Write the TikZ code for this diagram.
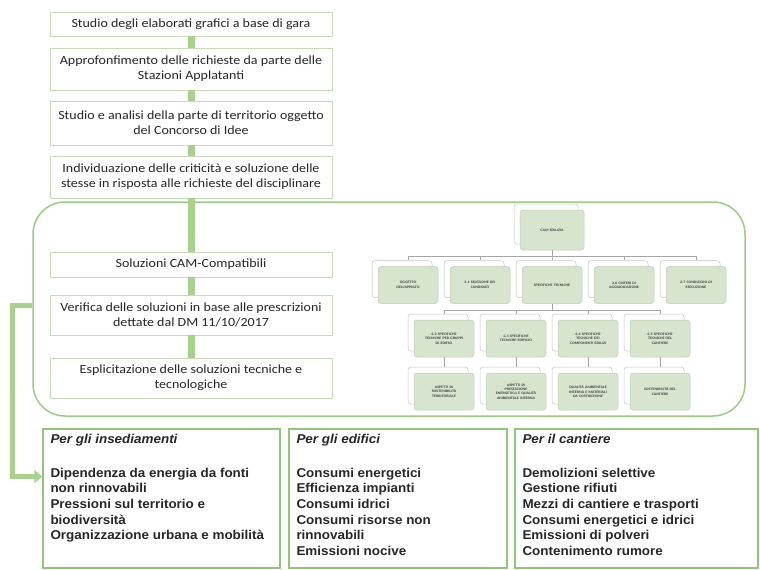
\documentclass[tikz,border=0pt]{standalone}
\usepackage{fontspec}
\setmainfont{Carlito}[FakeStretch=1.12]
\newfontfamily\arialf{Liberation Sans}[FakeStretch=1.05]
\usetikzlibrary{arrows.meta,calc}
\definecolor{barG}{HTML}{A9D18E}
\definecolor{flowB}{HTML}{C6D9BA}
\definecolor{contG}{HTML}{9CCB86}
\definecolor{botG}{HTML}{92C57C}
\definecolor{orgF}{HTML}{D7E4CE}
\definecolor{orgB}{HTML}{BDD0B1}
\definecolor{orgK}{HTML}{C4C4C4}
\definecolor{orgL}{HTML}{A6A6A6}
\tikzset{
  flowbox/.style={draw=flowB, line width=0.9pt, fill=white, minimum width=282pt,
    inner sep=0pt, align=center, font=\fontsize{12.5}{15}\selectfont, text=black!85},
  bar/.style={draw=barG, line width=7pt},
  orgfront/.style={draw=orgB, line width=0.5pt, fill=orgF, rounded corners=3pt,
    minimum width=60pt, minimum height=37pt, text width=56pt, align=center,
    inner sep=0pt, font=\bfseries\fontsize{3.6}{4.4}\selectfont, text=black!75},
  orgback/.style={draw=orgK, line width=0.5pt, fill=white, rounded corners=3pt,
    minimum width=60pt, minimum height=37pt, inner sep=0pt},
  orgline/.style={draw=orgL, line width=0.5pt},
  botbox/.style={draw=botG, line width=1.4pt, fill=white, minimum height=139pt, inner sep=0pt},
  bottext/.style={anchor=north west, align=left, inner sep=0pt,
    font=\arialf\bfseries\fontsize{12.8}{15.6}\selectfont, text=black!85},
  larr/.style={draw=barG, line width=5pt, line join=miter,
    -{Triangle[length=8pt,width=13pt]}}
}
\begin{document}
\begin{tikzpicture}[x=1pt,y=1pt]
\fill[white] (0,0) rectangle (760,-570);
\useasboundingbox (0,0) rectangle (760,-570);

% container
\node[draw=contG, line width=1.5pt, rounded corners=32pt, minimum width=712pt,
  minimum height=214pt, inner sep=0pt] (cont) at (389,-309) {};

% flow boxes
\node[flowbox, minimum height=24pt] (f1) at (191,-24) {Studio degli elaborati grafici a base di gara};
\node[flowbox, minimum height=42pt] (f2) at (191,-69) {Approfonfimento delle richieste da parte delle\\Stazioni Applatanti};
\node[flowbox, minimum height=44pt] (f3) at (191,-123) {Studio e analisi della parte di territorio oggetto\\del Concorso di Idee};
\node[flowbox, minimum height=42pt] (f4) at (191,-177) {Individuazione delle criticità e soluzione delle\\stesse in risposta alle richieste del disciplinare};
\node[flowbox, minimum height=25pt] (s1) at (191,-264.5) {Soluzioni CAM-Compatibili};
\node[flowbox, minimum height=40pt] (s2) at (191,-315) {Verifica delle soluzioni in base alle prescrizioni\\dettate dal DM 11/10/2017};
\node[flowbox, minimum height=40pt] (s3) at (191,-378) {Esplicitazione delle soluzioni tecniche e\\tecnologiche};

\draw[bar] (f1.south) -- (f2.north);
\draw[bar] (f2.south) -- (f3.north);
\draw[bar] (f3.south) -- (f4.north);
\draw[bar] (f4.south) -- (s1.north);
\draw[bar] (s1.south) -- (s2.north);
\draw[bar] (s2.south) -- (s3.north);

% org chart
\node[orgback, minimum width=64pt, minimum height=40pt] (camk) at (546,-224) {};
\node[orgfront, minimum width=64pt, minimum height=40pt] (cam) at (552,-230) {CAM EDILIZIA};

\node[orgback] (l1ak) at (402,-279) {};
\node[orgfront] (l1a) at (408,-285) {OGGETTO\\DELL'APPALTO};
\node[orgback] (l1bk) at (474,-279) {};
\node[orgfront] (l1b) at (480,-285) {2.1 SELEZIONE DEI\\CANDIDATI};
\node[orgback] (l1ck) at (546,-279) {};
\node[orgfront] (l1c) at (552,-285) {SPECIFICHE TECNICHE};
\node[orgback] (l1dk) at (618,-279) {};
\node[orgfront] (l1d) at (624,-285) {2.6 CRITERI DI\\AGGIUDICAZIONE};
\node[orgback] (l1ek) at (690,-279) {};
\node[orgfront] (l1e) at (696,-285) {2.7 CONDIZIONI DI\\ESECUZIONE};

\node[orgback] (l2ak) at (438,-332.5) {};
\node[orgfront] (l2a) at (444,-338.5) {2.2 SPECIFICHE\\TECNICHE PER GRUPPI\\DI EDIFICI};
\node[orgback] (l2bk) at (510,-332.5) {};
\node[orgfront] (l2b) at (516,-338.5) {2.3 SPECIFICHE\\TECNICHE EDIFICIO};
\node[orgback] (l2ck) at (582,-332.5) {};
\node[orgfront] (l2c) at (588,-338.5) {2.4 SPECIFICHE\\TECNICHE DEI\\COMPONENTI EDILIZI};
\node[orgback] (l2dk) at (654,-332.5) {};
\node[orgfront] (l2d) at (660,-338.5) {2.5 SPECIFICHE\\TECNICHE DEL\\CANTIERE};

\node[orgback] (l3ak) at (438,-385.5) {};
\node[orgfront] (l3a) at (444,-391.5) {ASPETTI DI\\SOSTENIBILITÀ\\TERRITORIALE};
\node[orgback] (l3bk) at (510,-385.5) {};
\node[orgfront] (l3b) at (516,-391.5) {ASPETTI DI\\PRESTAZIONE\\ENERGETICA E QUALITÀ\\AMBIENTALE INTERNA};
\node[orgback] (l3ck) at (582,-385.5) {};
\node[orgfront] (l3c) at (588,-391.5) {QUALITÀ AMBIENTALE\\INTERNA E MATERIALI\\DA COSTRUZIONE};
\node[orgback] (l3dk) at (654,-385.5) {};
\node[orgfront] (l3d) at (660,-391.5) {SOSTENIBILITÀ DEL\\CANTIERE};

\foreach \c in {l1a,l1b,l1c,l1d,l1e}
  \draw[orgline] (cam.south) -- ++(0,-6pt) -| (\c.north |- \c k.north);
\foreach \c in {l2a,l2b,l2c,l2d}
  \draw[orgline] (l1c.south) -- ++(0,-6pt) -| (\c.north |- \c k.north);
\draw[orgline] (l2a.south) -- (l3a.north |- l3ak.north);
\draw[orgline] (l2b.south) -- (l3b.north |- l3bk.north);
\draw[orgline] (l2c.south) -- (l3c.north |- l3ck.north);
\draw[orgline] (l2d.south) -- (l3d.north |- l3dk.north);

% bottom boxes
\node[botbox, minimum width=237pt] (b1) at (161.5,-498.5) {};
\node[botbox, minimum width=218pt] (b2) at (398,-498.5) {};
\node[botbox, minimum width=243pt] (b3) at (636.5,-498.5) {};

\node[bottext] (t1) at ($(b1.north west)+(8pt,-6pt)$) {\itshape Per gli insediamenti\\[18pt]
Dipendenza da energia da fonti\\non rinnovabili\\Pressioni sul territorio e\\biodiversità\\Organizzazione urbana e mobilità};
\node[bottext] (t2) at ($(b2.north west)+(8pt,-6pt)$) {\itshape Per gli edifici\\[18pt]
Consumi energetici\\Efficienza impianti\\Consumi idrici\\Consumi risorse non\\rinnovabili\\Emissioni nocive};
\node[bottext] (t3) at ($(b3.north west)+(8pt,-6pt)$) {\itshape Per il cantiere\\[18pt]
Demolizioni selettive\\Gestione rifiuti\\Mezzi di cantiere e trasporti\\Consumi energetici e idrici\\Emissioni di polveri\\Contenimento rumore};

% L arrow
\draw[larr] ([yshift=4pt]cont.west) -- ++(-20pt,0) |- ([yshift=22pt]b1.west);
\end{tikzpicture}
\end{document}
